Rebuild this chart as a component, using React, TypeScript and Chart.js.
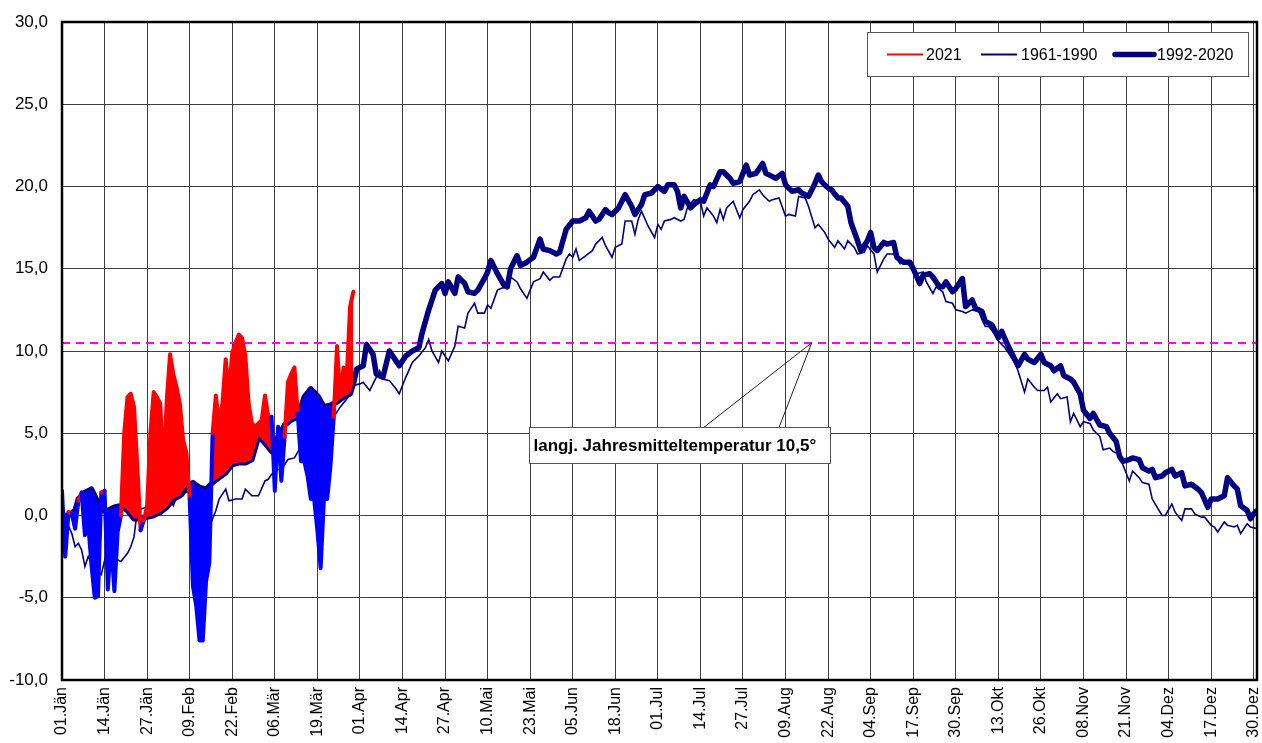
import React, { useEffect, useRef } from "react";
import { Chart, registerables } from "chart.js";

Chart.register(...registerables);

const FONT = "'Liberation Sans', Arial, Helvetica, sans-serif";

// ---- axis ticks ----
const tickDays = [0, 13, 26, 39, 52, 65, 78, 91, 104, 117, 130, 143, 156, 169, 182, 195, 208, 221, 234, 247, 260, 273, 286, 299, 312, 325, 338, 351, 364];
const tickLabels = ["01.Jän", "14.Jän", "27.Jän", "09.Feb", "22.Feb", "06.Mär", "19.Mär", "01.Apr", "14.Apr", "27.Apr", "10.Mai", "23.Mai", "05.Jun", "18.Jun", "01.Jul", "14.Jul", "27.Jul", "09.Aug", "22.Aug", "04.Sep", "17.Sep", "30.Sep", "13.Okt", "26.Okt", "08.Nov", "21.Nov", "04.Dez", "17.Dez", "30.Dez"];
const yMin = -10;
const yMax = 30;
const yStep = 5;

// ---- series ----
const annualMean = 10.5;
const annotationText = "langj. Jahresmitteltemperatur 10,5°";
const seriesNames = ["2021", "1961-1990", "1992-2020"];

// 2021 daily mean temperature, 01.Jän .. 31.Mär (index = day of year - 1)
const values2021 = [
  1.5, -2.5, 0.2, 0.1, -0.8, 0.9, 1.4, -1.2, -0.5, -3.0,
  -5.0, -4.9, 1.4, 1.5, -4.5, -1.5, -4.6, -1.0, 0.0, 5.0,
  7.2, 7.4, 6.6, 3.0, -0.9, -0.3, 0.6, 5.0, 7.5, 7.2,
  6.8, 2.8, 7.0, 9.8, 8.6, 7.8, 6.8, 4.6, 3.8, 1.0,
  -4.3, -5.5, -7.6, -7.6, -4.0, -2.9, 5.0, 7.3, 5.5, 6.8,
  9.5, 7.4, 9.9, 10.5, 11.0, 10.8, 9.7, 6.8, 5.6, 5.4,
  5.6, 5.8, 7.3, 6.0, 6.0, 1.5, 5.4, 2.1, 4.8, 8.1,
  8.6, 9.0, 6.2, 3.3, 3.3, 2.4, 1.0, 1.0, -0.9, -3.2,
  1.0, 1.0, 3.0, 6.0, 10.3, 7.2, 9.0, 8.5, 12.7, 13.6,
];

// 1961-1990 long-term daily mean: [day index, °C]
const clim6190: [number, number][] = [
  [0, 0.2], [1, -0.2], [3, -1.1], [4, -1.9], [5, -1.7], [6, -2.1], [7, -3.1], [8, -2.5], [9, -2.9], [10, -3.3],
  [12, -3.6], [14, -1.9], [15, -1.7], [17, -2.7], [18, -2.8], [20, -2.3], [21, -1.9], [22, -1.3], [23, 0.3], [24, 0.4],
  [26, 0.5], [28, 0.0], [30, 0.3], [31, 1.0], [32, 0.4], [33, 1.0], [34, 0.6], [35, 1.1], [37, 1.2], [38, 1.5],
  [40, 1.2], [42, 0.5], [44, 0.3], [45, -0.7], [47, 0.3], [48, 1.0], [50, 1.6], [51, 0.9], [53, 1.0], [55, 1.0],
  [56, 1.6], [58, 1.2], [60, 1.2], [62, 2.1], [63, 2.2], [64, 2.5], [66, 2.8], [67, 2.8], [69, 3.4], [71, 3.5],
  [73, 4.2], [75, 4.4], [77, 4.6], [79, 4.7], [81, 4.9], [83, 6.0], [85, 6.6], [87, 7.1], [89, 7.9], [91, 8.0],
  [92, 8.1], [94, 7.6], [95, 8.0], [97, 8.8], [98, 8.3], [100, 8.2], [102, 7.7], [103, 7.4], [105, 8.4], [107, 9.3],
  [109, 9.7], [111, 10.2], [112, 10.7], [113, 10.0], [115, 9.3], [116, 10.0], [118, 9.4], [120, 10.3], [121, 11.5], [123, 11.4],
  [124, 12.3], [126, 12.9], [127, 12.3], [129, 12.3], [130, 12.8], [131, 12.6], [133, 13.7], [134, 13.8], [136, 13.9], [137, 14.5],
  [139, 14.2], [140, 13.8], [142, 13.2], [144, 14.2], [146, 14.4], [147, 14.8], [149, 14.3], [150, 14.5], [152, 14.5], [154, 15.6],
  [155, 15.9], [156, 15.7], [157, 16.2], [158, 15.5], [160, 15.8], [162, 16.1], [163, 16.5], [165, 16.9], [166, 16.4], [168, 15.7],
  [169, 16.3], [171, 16.5], [172, 17.9], [174, 17.9], [175, 17.1], [176, 18.0], [177, 18.5], [179, 17.6], [181, 16.9], [182, 17.7],
  [183, 17.4], [184, 17.9], [186, 18.0], [187, 18.1], [189, 17.9], [190, 18.0], [191, 18.7], [193, 19.2], [195, 19.1], [196, 18.2],
  [197, 18.7], [199, 18.2], [200, 17.8], [201, 18.6], [202, 18.0], [203, 18.7], [205, 19.1], [207, 18.1], [208, 18.6], [210, 19.1],
  [211, 19.5], [213, 19.8], [214, 19.5], [216, 19.1], [217, 19.2], [219, 19.3], [221, 18.2], [222, 18.3], [224, 18.2], [225, 19.4],
  [227, 19.3], [228, 18.8], [230, 17.5], [231, 17.7], [233, 17.2], [234, 16.8], [236, 16.3], [237, 16.7], [239, 16.2], [240, 16.7],
  [242, 16.3], [243, 15.9], [245, 16.0], [246, 16.4], [248, 15.9], [249, 14.8], [251, 15.6], [252, 15.9], [254, 15.9], [256, 15.3],
  [257, 15.4], [259, 15.2], [260, 14.9], [261, 14.7], [263, 14.8], [264, 14.2], [266, 13.5], [267, 13.9], [269, 13.6], [270, 13.0],
  [272, 12.9], [273, 12.5], [275, 12.4], [276, 12.3], [278, 12.5], [280, 12.4], [281, 11.9], [282, 11.5], [283, 11.5], [285, 11.0],
  [286, 10.6], [288, 10.2], [289, 9.9], [291, 9.3], [292, 8.8], [294, 7.5], [295, 8.3], [297, 7.8], [298, 7.6], [300, 7.6],
  [301, 7.8], [302, 6.9], [304, 7.4], [305, 7.1], [307, 7.2], [308, 5.7], [309, 6.2], [311, 5.4], [312, 5.7], [314, 5.6],
  [315, 5.2], [317, 4.8], [318, 4.0], [320, 4.1], [321, 3.9], [323, 3.7], [324, 3.1], [326, 2.1], [327, 2.7], [329, 2.3],
  [330, 2.0], [332, 1.9], [333, 1.0], [336, 0.0], [337, 0.0], [339, 0.7], [340, 0.2], [342, -0.3], [343, 0.4], [345, 0.4],
  [346, 0.1], [348, -0.1], [349, -0.1], [351, -0.6], [352, -0.7], [353, -1.0], [355, -0.4], [356, -0.6], [358, -0.7], [359, -0.6],
  [360, -1.1], [362, -0.5], [363, -0.7], [365, -0.8],
];

// 1992-2020 long-term daily mean: [day index, °C]
const clim9220: [number, number][] = [
  [0, 0.0], [2, 0.0], [4, 0.3], [5, 1.0], [7, 1.4], [9, 1.6], [10, 1.2], [12, 0.3], [14, 0.3], [16, 0.5],
  [18, 0.6], [20, 0.3], [22, -0.2], [24, -0.2], [26, -0.1], [28, 0.0], [30, 0.2], [32, 0.5], [34, 1.0], [36, 1.2],
  [38, 1.8], [40, 2.0], [42, 1.7], [44, 1.6], [46, 2.0], [48, 2.3], [50, 2.6], [52, 3.1], [54, 3.2], [56, 3.2],
  [58, 3.4], [60, 4.8], [62, 4.4], [64, 3.9], [66, 4.8], [68, 5.5], [70, 5.8], [72, 6.0], [74, 7.2], [76, 7.7],
  [78, 7.3], [80, 6.6], [82, 6.7], [84, 6.9], [86, 7.2], [88, 7.4], [89, 8.0], [90, 8.9], [92, 9.1], [93, 10.4],
  [95, 9.8], [96, 8.6], [98, 8.4], [100, 10.0], [102, 9.4], [103, 9.1], [105, 9.7], [107, 10.0], [109, 10.2], [110, 11.1],
  [112, 12.5], [114, 13.7], [116, 14.1], [117, 13.5], [118, 14.2], [120, 13.5], [121, 14.5], [123, 14.1], [124, 13.6], [126, 13.5],
  [127, 13.7], [129, 14.4], [130, 14.8], [131, 15.5], [133, 14.7], [135, 14.0], [136, 13.9], [137, 15.0], [139, 15.8], [140, 15.2],
  [142, 15.4], [144, 15.7], [146, 16.8], [147, 16.2], [149, 16.1], [151, 15.9], [152, 16.0], [154, 17.4], [156, 17.9], [158, 17.9],
  [160, 18.1], [161, 18.5], [163, 17.9], [164, 18.0], [166, 18.6], [167, 18.4], [168, 18.3], [170, 18.7], [172, 19.5], [174, 18.8],
  [175, 18.3], [177, 18.9], [178, 19.5], [180, 19.6], [182, 20.0], [184, 19.7], [185, 20.1], [187, 20.1], [188, 19.7], [189, 18.7],
  [190, 19.4], [192, 18.7], [193, 18.9], [195, 19.2], [196, 19.1], [198, 20.1], [199, 20.0], [201, 20.9], [202, 20.9], [204, 20.5],
  [205, 20.2], [207, 20.3], [209, 21.3], [210, 20.7], [212, 20.8], [214, 21.4], [215, 20.8], [217, 20.6], [218, 20.5], [220, 20.8],
  [221, 20.1], [223, 19.7], [225, 19.8], [226, 19.6], [228, 19.4], [230, 20.2], [231, 20.7], [232, 20.3], [234, 19.9], [235, 19.8],
  [237, 19.3], [238, 19.3], [240, 18.8], [241, 17.8], [243, 16.7], [244, 16.1], [246, 16.7], [247, 17.2], [248, 16.3], [249, 16.1],
  [251, 16.6], [252, 16.5], [254, 16.6], [255, 15.7], [257, 15.4], [259, 15.4], [260, 15.0], [262, 14.1], [263, 14.6], [265, 14.7],
  [266, 14.5], [268, 13.9], [269, 13.9], [270, 14.2], [272, 13.6], [273, 13.8], [275, 14.4], [276, 12.7], [278, 13.1], [279, 12.6],
  [281, 12.4], [282, 11.8], [284, 11.6], [286, 10.8], [287, 11.2], [289, 10.3], [291, 9.5], [292, 9.1], [294, 9.8], [295, 9.5],
  [297, 9.3], [299, 9.8], [300, 9.3], [302, 9.1], [303, 8.8], [305, 9.1], [306, 8.5], [308, 8.3], [309, 8.1], [311, 7.4],
  [312, 6.4], [314, 5.9], [315, 6.2], [317, 5.5], [319, 5.4], [320, 5.0], [322, 4.5], [323, 3.6], [324, 3.3], [326, 3.4],
  [327, 3.5], [329, 3.4], [330, 2.9], [332, 2.7], [333, 2.8], [334, 2.3], [336, 2.4], [337, 2.6], [339, 2.8], [340, 2.4],
  [342, 2.6], [343, 1.8], [345, 1.9], [347, 1.6], [348, 1.4], [350, 0.5], [351, 1.0], [353, 1.0], [355, 1.2], [356, 2.3],
  [358, 1.8], [359, 1.6], [360, 0.6], [362, 0.3], [363, -0.2], [364, 0.1], [365, 0.3],
];

// annotation placement (data units)
const calloutApexDay = 229;
const calloutLegDays = [196, 219];
const boxDays = [142.6, 234.6];
const boxTemps = [5.4, 3.2];

const RED = "#ff0000";
const BLUE = "#0000ff";
const NAVY = "#000080";

function meanAt(day: number): number {
  for (let i = 0; i < clim9220.length - 1; i++) {
    const [d0, v0] = clim9220[i];
    const [d1, v1] = clim9220[i + 1];
    if (day >= d0 && day <= d1) return v0 + ((v1 - v0) * (day - d0)) / (d1 - d0);
  }
  return clim9220[clim9220.length - 1][1];
}

const decorPlugin = {
  id: "decor",
  beforeDatasetsDraw(chart: any) {
    const { ctx, chartArea: a, scales } = chart;
    const yy = Math.round(scales.y.getPixelForValue(annualMean));
    ctx.save();
    ctx.strokeStyle = "#ff00ff";
    ctx.lineWidth = 2;
    ctx.setLineDash([8, 6]);
    ctx.beginPath();
    ctx.moveTo(a.left, yy);
    ctx.lineTo(a.right, yy);
    ctx.stroke();
    ctx.restore();
  },
  afterDraw(chart: any) {
    const { ctx, chartArea: a, scales } = chart;
    const x = scales.x;
    const y = scales.y;
    ctx.save();
    // plot border
    ctx.strokeStyle = "#000";
    ctx.lineWidth = 2.5;
    ctx.strokeRect(a.left, a.top, a.right - a.left, a.bottom - a.top);

    // callout
    const apX = x.getPixelForValue(calloutApexDay);
    const apY = y.getPixelForValue(annualMean);
    const bl = Math.round(x.getPixelForValue(boxDays[0])) + 0.5;
    const br = Math.round(x.getPixelForValue(boxDays[1])) + 0.5;
    const bt = Math.round(y.getPixelForValue(boxTemps[0])) + 0.5;
    const bb = Math.round(y.getPixelForValue(boxTemps[1])) + 0.5;
    ctx.strokeStyle = "#222";
    ctx.lineWidth = 1;
    ctx.beginPath();
    for (const d of calloutLegDays) {
      ctx.moveTo(x.getPixelForValue(d), bt);
      ctx.lineTo(apX, apY);
    }
    ctx.stroke();
    ctx.fillStyle = "#fff";
    ctx.fillRect(bl, bt, br - bl, bb - bt);
    ctx.strokeStyle = "#555";
    ctx.strokeRect(bl, bt, br - bl, bb - bt);
    ctx.fillStyle = "#000";
    ctx.font = `bold 17px ${FONT}`;
    ctx.textAlign = "left";
    ctx.textBaseline = "middle";
    ctx.fillText(annotationText, bl + 4, (bt + bb) / 2 + 1);

    // legend
    const lr = a.right - 9;
    const ll = lr - 381;
    const lt = a.top + 10;
    const lh = 44;
    ctx.fillStyle = "#fff";
    ctx.fillRect(ll + 0.5, lt + 0.5, lr - ll, lh);
    ctx.strokeStyle = "#555";
    ctx.lineWidth = 1;
    ctx.strokeRect(ll + 0.5, lt + 0.5, lr - ll, lh);
    const cy = lt + lh / 2 + 0.5;
    const items = [
      { x0: 20, x1: 56, tx: 59, color: RED, w: 2 },
      { x0: 114, x1: 150, tx: 154, color: NAVY, w: 2 },
      { x0: 248, x1: 287, tx: 290, color: NAVY, w: 5.5 },
    ];
    ctx.font = `16px ${FONT}`;
    items.forEach((it, i) => {
      ctx.strokeStyle = it.color;
      ctx.lineWidth = it.w;
      ctx.lineCap = it.w > 2 ? "round" : "butt";
      ctx.beginPath();
      ctx.moveTo(ll + it.x0, cy);
      ctx.lineTo(ll + it.x1, cy);
      ctx.stroke();
      ctx.fillStyle = "#000";
      ctx.fillText(seriesNames[i], ll + it.tx, cy + 1);
    });
    ctx.restore();
  },
};

export default function App() {
  const ref = useRef<HTMLCanvasElement>(null);
  useEffect(() => {
    const chart = new Chart(ref.current as HTMLCanvasElement, {
      type: "line",
      data: {
        datasets: [
          {
            label: seriesNames[0],
            data: values2021.map((v, i) => ({ x: i, y: v })),
            borderColor: RED,
            borderWidth: 4,
            borderJoinStyle: "round",
            borderCapStyle: "round",
            pointRadius: 0,
            fill: { target: 2, above: RED, below: BLUE },
            segment: {
              borderColor: (c: any) => {
                const mx = (c.p0.parsed.x + c.p1.parsed.x) / 2;
                const my = (c.p0.parsed.y + c.p1.parsed.y) / 2;
                return my >= meanAt(mx) ? RED : BLUE;
              },
            },
          } as any,
          {
            label: seriesNames[1],
            data: clim6190.map(([d, v]) => ({ x: d, y: v })),
            borderColor: NAVY,
            borderWidth: 1.6,
            pointRadius: 0,
            fill: false,
            tension: 0,
          },
          {
            label: seriesNames[2],
            data: clim9220.map(([d, v]) => ({ x: d, y: v })),
            borderColor: NAVY,
            borderWidth: 5.5,
            pointRadius: 0,
            fill: false,
            tension: 0,
            borderJoinStyle: "round",
            borderCapStyle: "round",
          } as any,
        ],
      },
      options: {
        animation: false,
        responsive: false,
        events: [],
        layout: { padding: { top: 22, right: 5, left: 0, bottom: 0 } },
        plugins: { legend: { display: false }, tooltip: { enabled: false }, title: { display: false } },
        scales: {
          x: {
            type: "linear",
            min: 0,
            max: 365,
            afterBuildTicks: (s: any) => {
              s.ticks = tickDays.map((v) => ({ value: v }));
            },
            afterFit: (s: any) => {
              s.height = 63;
              s.paddingLeft = 0;
              s.paddingRight = 0;
            },
            ticks: {
              autoSkip: false,
              maxRotation: 90,
              minRotation: 90,
              padding: 7,
              color: "#000",
              font: { family: FONT, size: 16 },
              callback: (v: any) => {
                const i = tickDays.indexOf(Number(v));
                return i >= 0 ? tickLabels[i] : "";
              },
            },
            grid: { color: "#404040", lineWidth: 1, drawTicks: false },
            border: { display: false },
          },
          y: {
            min: yMin,
            max: yMax,
            afterFit: (s: any) => {
              s.width = 62;
              s.paddingTop = 0;
              s.paddingBottom = 0;
            },
            ticks: {
              stepSize: yStep,
              padding: 14,
              color: "#000",
              font: { family: FONT, size: 17 },
              callback: (v: any) => Number(v).toFixed(1).replace(".", ","),
            },
            grid: { color: "#404040", lineWidth: 1, drawTicks: false },
            border: { display: false },
          },
        },
      } as any,
      plugins: [decorPlugin],
    });
    return () => chart.destroy();
  }, []);
  return (
    <div style={{ position: "absolute", left: 0, top: 0, width: 1262, height: 743, background: "#fff" }}>
      <canvas ref={ref} width={1262} height={743} style={{ display: "block" }} />
    </div>
  );
}
